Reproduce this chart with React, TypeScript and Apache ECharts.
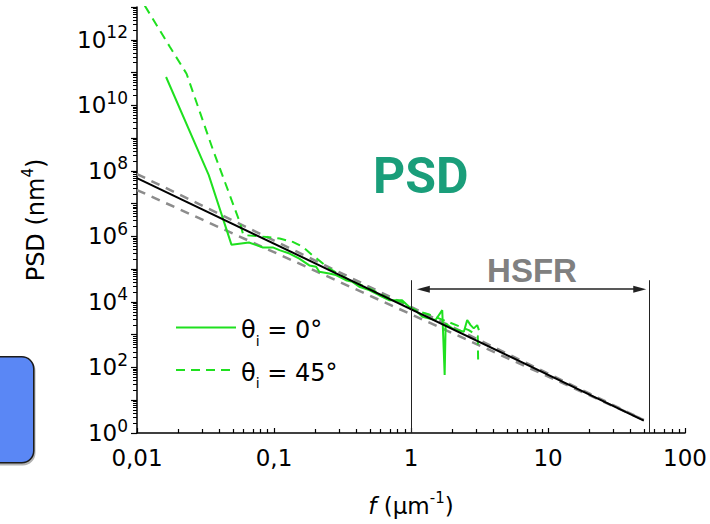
import React, { useEffect, useRef } from 'react';
import * as echarts from 'echarts';

// θi = 0° measurement
const fSolid = [0.0163, 0.0334, 0.0489, 0.0656, 0.083, 0.098, 0.1096, 0.1297, 0.153, 0.181, 0.203, 0.214, 0.253, 0.283, 0.335, 0.374, 0.419, 0.495, 0.585, 0.692, 0.86, 0.967, 1.02, 1.08, 1.21, 1.51, 1.69, 1.76, 1.79, 2.0, 2.43, 2.57, 2.72, 2.87, 3.04, 3.13];
const psdSolid = [7.3e10, 7.4e7, 5.6e5, 6.5e5, 4.6e5, 4.6e5, 3.8e5, 3.0e5, 2.1e5, 1.3e5, 1.18e5, 8.3e4, 7.4e4, 6.6e4, 4.6e4, 4.1e4, 2.9e4, 2.3e4, 1.6e4, 1.13e4, 1.13e4, 7.1e3, 6.3e3, 5.6e3, 3.5e3, 2.8e3, 5.6e3, 59, 2.2e3, 1.56e3, 1.23e3, 2.8e3, 1.96e3, 1.56e3, 1.96e3, 1.38e3];

// θi = 45° measurement
const fDashed = [0.01, 0.0174, 0.023, 0.0359, 0.0561, 0.0597, 0.088, 0.11, 0.137, 0.162, 0.19, 0.253, 0.354, 0.495, 0.692, 0.865, 1.0, 1.34, 1.89, 2.64, 3.07, 3.09];
const psdDashed = [2.7e13, 6e11, 9.2e10, 4.3e8, 2.8e6, 1.1e6, 9.6e5, 8.6e5, 6.8e5, 4.8e5, 2.7e5, 1.05e5, 4.6e4, 2.6e4, 1.28e4, 1.0e4, 6e3, 4.2e3, 2.4e3, 1.38e3, 910, 148];

// power-law fit and its bounds
const fFit = [0.01, 50];
const psdFit = [6e7, 2.4];
const psdUpper = [8e7, 2.5];
const psdLower = [2.6e7, 2.5];

// HSFR band
const hsfrRange = [1, 55];
const hsfrArrow = [1.23, 46.7];
const hsfrArrowLevel = 2.45e4;
const hsfrLineTop = 4.6e4;

// ticks (in decades)
const xTickExps = [-2, -1, 0, 1, 2];
const xTickLabels = ['0,01', '0,1', '1', '10', '100'];
const yLabelExps = [0, 2, 4, 6, 8, 10, 12];
const yTickExps = [0, 1, 2, 3, 4, 5, 6, 7, 8, 9, 10, 11, 12, 13];

const angles = [0, 45];
const seriesNames = angles.map((a) => `θi = ${a}°`);

const zip = (xs: number[], ys: number[]) => xs.map((x, i) => [x, ys[i]]);
const minorLogs = (from: number, to: number) => {
  const out: number[] = [];
  for (let n = from; n < to; n++) for (let k = 2; k <= 9; k++) out.push(n + Math.log10(k));
  return out;
};

const FONT = 'DejaVu Sans';
const GREEN = '#1fe01f';

export default function App() {
  const ref = useRef<HTMLDivElement>(null);
  useEffect(() => {
    if (!ref.current) return;
    const chart = echarts.init(ref.current, null, { renderer: 'svg' });
    const arrowPt = { symbol: 'triangle', symbolSize: [7, 13] };
    const option: any = {
      animation: false,
      backgroundColor: '#fff',
      grid: { left: 137, right: 23, top: 7, bottom: 91, containLabel: false },
      xAxis: [
        { type: 'log', logBase: 10, min: 0.01, max: 100, show: false },
        {
          type: 'value', min: -2, max: 2, position: 'bottom',
          axisLine: { onZero: false, lineStyle: { color: '#000', width: 1.5 } },
          axisTick: { inside: true, length: 5, customValues: xTickExps, lineStyle: { color: '#000', width: 1.2 } },
          axisLabel: {
            customValues: xTickExps,
            formatter: (v: number) => xTickLabels[xTickExps.indexOf(Math.round(v))] ?? '',
            margin: 13, color: '#000', fontSize: 23, fontFamily: FONT,
          },
          splitLine: { show: false },
          name: '{i|f}{t| (µm}{s|-1}{t|)}',
          nameLocation: 'middle',
          nameGap: 57,
          nameTextStyle: {
            rich: {
              i: { fontSize: 23, fontStyle: 'italic', fontFamily: FONT, color: '#000', lineHeight: 32 },
              t: { fontSize: 23, fontFamily: FONT, color: '#000', lineHeight: 32 },
              s: { fontSize: 15, fontFamily: FONT, color: '#000', verticalAlign: 'top' },
            },
          },
        },
        {
          type: 'value', min: -2, max: 2, position: 'bottom',
          axisLine: { show: false, onZero: false },
          axisTick: { inside: true, length: 4, customValues: minorLogs(-2, 2), lineStyle: { color: '#000', width: 1.2 } },
          axisLabel: { show: false },
          splitLine: { show: false },
        },
      ],
      yAxis: [
        { type: 'log', logBase: 10, min: 1, max: 1e13, show: false },
        {
          type: 'value', min: 0, max: 13, position: 'left',
          axisLine: { onZero: false, lineStyle: { color: '#000', width: 1.5 } },
          axisTick: { inside: false, length: 6, customValues: yTickExps, lineStyle: { color: '#000', width: 1.2 } },
          axisLabel: {
            customValues: yLabelExps,
            formatter: (v: number) => `{b|10}{e|${Math.round(v)}}`,
            margin: 9,
            rich: {
              b: { fontSize: 23, fontFamily: FONT, color: '#000', lineHeight: 32 },
              e: { fontSize: 17, fontFamily: FONT, color: '#000', verticalAlign: 'top' },
            },
          },
          splitLine: { show: false },
          name: '{t|PSD (nm}{s|4}{t|)}',
          nameLocation: 'middle',
          nameGap: 85,
          nameTextStyle: {
            rich: {
              t: { fontSize: 24, fontFamily: FONT, color: '#000', lineHeight: 32 },
              s: { fontSize: 15, fontFamily: FONT, color: '#000', verticalAlign: 'top' },
            },
          },
        },
        {
          type: 'value', min: 0, max: 13, position: 'left',
          axisLine: { show: false, onZero: false },
          axisTick: { inside: false, length: 4, customValues: minorLogs(0, 13), lineStyle: { color: '#000', width: 1 } },
          axisLabel: { show: false },
          splitLine: { show: false },
        },
      ],
      legend: {
        left: 175, top: 318, orient: 'vertical', padding: 0, itemGap: 13,
        itemWidth: 60, itemHeight: 14,
        data: seriesNames,
        itemStyle: { color: 'rgba(0,0,0,0)', borderColor: 'rgba(0,0,0,0)', borderWidth: 0, opacity: 0 },
        formatter: (name: string) => {
          const a = angles[seriesNames.indexOf(name)];
          return `{t|θ}{s|i}{t| = ${a}°}`;
        },
        textStyle: {
          rich: {
            t: { fontSize: 24, fontFamily: FONT, color: '#000', padding: [5, 0, 0, 0] },
            s: { fontSize: 14, fontFamily: FONT, color: '#000', padding: [26, 0, 0, 0] },
          },
        },
      },
      graphic: [
        {
          type: 'rect', left: -20, top: 356, z: 10,
          shape: { width: 53, height: 106, r: 12 },
          style: { fill: '#5a87f5', stroke: '#1a1a1a', lineWidth: 1.5, shadowColor: 'rgba(0,0,0,0.3)', shadowOffsetX: 1, shadowOffsetY: 2, shadowBlur: 1 },
        },
        {
          type: 'text', x: 373, y: 176, z: 10,
          style: { text: 'PSD', fill: '#1a9e7a', font: 'bold 50px Roboto', textVerticalAlign: 'middle', textAlign: 'left' },
        },
        {
          type: 'text', x: 532, y: 270, z: 10,
          style: { text: 'HSFR', fill: '#808080', font: 'bold 33px "Liberation Sans"', textVerticalAlign: 'middle', textAlign: 'center' },
        },
      ],
      series: [
        {
          type: 'line', data: zip(fFit, psdUpper), symbol: 'none', silent: true, z: 1,
          xAxisIndex: 0, yAxisIndex: 0,
          lineStyle: { color: '#8c8c8c', width: 2.5, type: [9, 7] },
        },
        {
          type: 'line', data: zip(fFit, psdLower), symbol: 'none', silent: true, z: 1,
          xAxisIndex: 0, yAxisIndex: 0,
          lineStyle: { color: '#8c8c8c', width: 2.5, type: [9, 7] },
        },
        {
          name: seriesNames[0], type: 'line', data: zip(fSolid, psdSolid), symbol: 'none', z: 2,
          xAxisIndex: 0, yAxisIndex: 0, color: GREEN,
          lineStyle: { color: GREEN, width: 2 },
        },
        {
          name: seriesNames[1], type: 'line', data: zip(fDashed, psdDashed), symbol: 'none', z: 2,
          xAxisIndex: 0, yAxisIndex: 0, color: GREEN,
          lineStyle: { color: GREEN, width: 2, type: [9, 6] },
        },
        {
          type: 'line', data: zip(fFit, psdFit), symbol: 'none', silent: true, z: 3,
          xAxisIndex: 0, yAxisIndex: 0,
          lineStyle: { color: '#000', width: 2 },
          markLine: {
            silent: true, symbol: ['none', 'none'], label: { show: false },
            lineStyle: { color: '#222', width: 1, type: 'solid' },
            data: [
              [{ coord: [hsfrRange[0], 1] }, { coord: [hsfrRange[0], hsfrLineTop] }],
              [{ coord: [hsfrRange[1], 1] }, { coord: [hsfrRange[1], hsfrLineTop] }],
              [
                { coord: [hsfrArrow[0], hsfrArrowLevel], ...arrowPt, lineStyle: { color: '#222', width: 1.5, type: 'solid' } },
                { coord: [hsfrArrow[1], hsfrArrowLevel], ...arrowPt },
              ],
            ],
          },
        },
      ],
    };
    chart.setOption(option);
    return () => chart.dispose();
  }, []);
  return <div ref={ref} style={{ position: 'absolute', left: 0, top: 0, width: 710, height: 524 }} />;
}
